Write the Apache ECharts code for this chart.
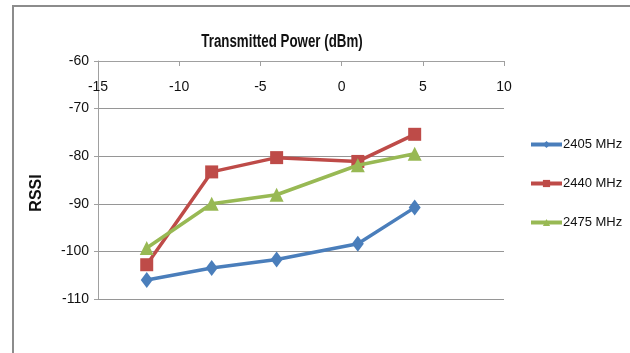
<!DOCTYPE html>
<html>
<head>
<meta charset="utf-8">
<script src="https://cdn.jsdelivr.net/npm/echarts@6/dist/echarts.min.js"></script>
<style>
  html, body { margin: 0; padding: 0; background: #fff; }
  #chart { width: 630px; height: 353px; }
</style>
</head>
<body>
<div id="chart"></div>
<script>
// Transmitted power (dBm) at which RSSI was measured
var txPower = [-12, -8, -4, 1, 4.5];

// RSSI readings per channel frequency
var seriesNames = ['2405 MHz', '2440 MHz', '2475 MHz'];
var rssi2405 = [-106, -103.5, -101.7, -98.4, -90.8];
var rssi2440 = [-102.8, -83.3, -80.3, -81.1, -75.4];
var rssi2475 = [-99.3, -90, -88.1, -81.9, -79.5];

var colors = ['#4A7EBB', '#BE4B48', '#98B954'];
var symbols = ['diamond', 'rect', 'triangle'];
var symbolSizes = [[12, 16], 13, 14];

var sans = '"Liberation Sans", Arial, sans-serif';

function pairs(ys) {
  return txPower.map(function (x, i) { return [x, ys[i]]; });
}

var chart = echarts.init(document.getElementById('chart'));

var valueSets = [rssi2405, rssi2440, rssi2475];
var series = valueSets.map(function (ys, i) {
  return {
    name: seriesNames[i],
    type: 'line',
    data: pairs(ys),
    symbol: symbols[i],
    symbolSize: symbolSizes[i],
    lineStyle: { color: colors[i], width: 3.5 },
    itemStyle: { color: colors[i] },
    z: 3 + i
  };
});

chart.setOption({
  animation: false,
  backgroundColor: '#ffffff',
  grid: { left: 98, right: 126, top: 61, bottom: 54 },
  graphic: [
    {
      type: 'rect',
      shape: { x: 13, y: 6, width: 640, height: 360 },
      style: { fill: 'none', stroke: '#8c8c8c', lineWidth: 2 },
      silent: true
    },
    {
      type: 'text',
      x: 282, y: 42,
      scaleX: 0.74,
      style: {
        text: 'Transmitted Power (dBm)',
        font: 'bold 18px ' + sans,
        fill: '#111',
        align: 'center',
        verticalAlign: 'middle'
      }
    },
    {
      type: 'text',
      x: 37, y: 193,
      rotation: Math.PI / 2,
      style: {
        text: 'RSSI',
        font: 'bold 16px ' + sans,
        fill: '#111',
        align: 'center',
        verticalAlign: 'middle'
      }
    }
  ],
  legend: {
    orient: 'vertical',
    left: 529,
    top: 138,
    padding: 0,
    itemWidth: 31,
    itemHeight: 9,
    itemGap: 26,
    data: seriesNames,
    lineStyle: { width: 4 },
    textStyle: { fontFamily: sans, fontSize: 13, color: '#111', padding: [0, 0, 0, -4] }
  },
  xAxis: {
    type: 'value',
    position: 'top',
    min: -15, max: 10, interval: 5,
    axisLine: { show: true, onZero: false, lineStyle: { color: '#a0a0a0', width: 1 } },
    axisTick: { show: true, inside: true, length: 5, lineStyle: { color: '#a0a0a0' } },
    axisLabel: { inside: true, margin: 19, fontFamily: sans, fontSize: 14, color: '#111' },
    splitLine: { show: false }
  },
  yAxis: {
    type: 'value',
    min: -110, max: -60, interval: 10,
    axisLine: { show: true, onZero: false, lineStyle: { color: '#a0a0a0', width: 1 } },
    axisTick: { show: true, length: 4, lineStyle: { color: '#a0a0a0' } },
    axisLabel: { margin: 9, fontFamily: sans, fontSize: 14, color: '#111' },
    splitLine: { show: true, lineStyle: { color: '#969696', width: 1 } }
  },
  series: series
});
</script>
</body>
</html>
